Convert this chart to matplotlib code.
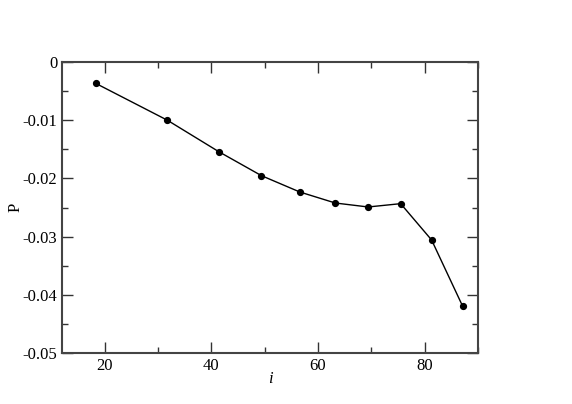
import matplotlib
matplotlib.use("Agg")
import matplotlib.pyplot as plt
from matplotlib.ticker import MultipleLocator, FuncFormatter

x_vals = [18.3, 31.75, 41.4, 49.4, 56.6, 63.25, 69.4, 75.5, 81.3, 87.1]
p_vals = [-0.00366, -0.0100, -0.01541, -0.01953, -0.02234, -0.02423, -0.02491, -0.02434, -0.03058, -0.04192]

plt.rcParams['font.family'] = ['Liberation Serif', 'DejaVu Serif']

fig = plt.figure(figsize=(5.72, 4.04), dpi=100)
ax = fig.add_axes([62/572, 1 - 353/404, (478-62)/572, (353-62)/404])

ax.plot(x_vals, p_vals, color='black', linewidth=1.0, marker='o', markersize=4.2)

ax.set_xlim(12, 90)
ax.set_ylim(-0.05, 0)
ax.xaxis.set_major_locator(MultipleLocator(20))
ax.xaxis.set_minor_locator(MultipleLocator(10))
ax.yaxis.set_major_locator(MultipleLocator(0.01))
ax.yaxis.set_minor_locator(MultipleLocator(0.005))

def yfmt(v, pos):
    if abs(v) < 1e-12:
        return '0'
    return '%.2f' % v
ax.yaxis.set_major_formatter(FuncFormatter(yfmt))

ax.tick_params(which='both', direction='in', top=True, right=True, labelsize=12, width=1.0, color='#333333')
ax.tick_params(which='major', length=8)
ax.tick_params(which='minor', length=4)
for s in ax.spines.values():
    s.set_linewidth(1.5)
    s.set_color('#444444')

ax.set_xlabel('i', fontstyle='italic', fontsize=12)
ax.set_ylabel('P', fontsize=12)
ax.yaxis.set_label_coords(-0.092, 0.5)
ax.xaxis.set_label_coords(0.5, -0.063)

fig.savefig('out.png', dpi=100)
